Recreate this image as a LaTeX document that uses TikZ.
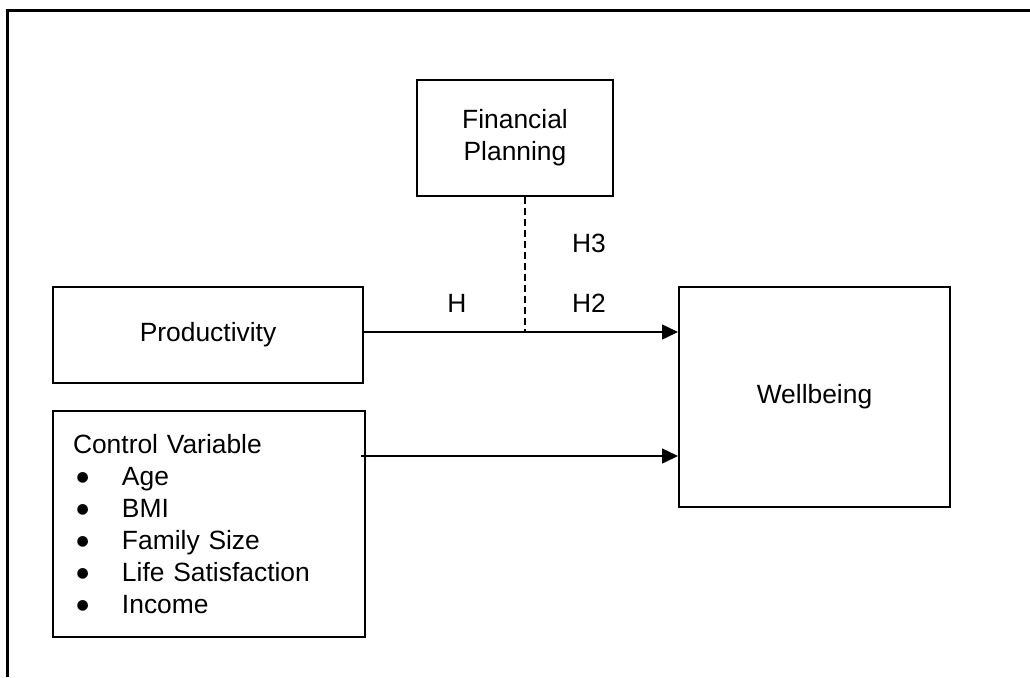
\documentclass[tikz,border=0pt]{standalone}
\usepackage{fontspec}
\setmainfont{Liberation Sans}
\newfontfamily\dejavu{DejaVu Sans}
\usetikzlibrary{arrows.meta}
\newcommand{\itembullet}{\makebox[24.5pt][l]{\hspace{1.8pt}\raisebox{1.8pt}{\dejavu\fontsize{7}{7}\selectfont ●}}}
\begin{document}
\begin{tikzpicture}[x=0.5pt,y=-0.5pt]
\useasboundingbox (0,0) rectangle (1030,677);
\draw [line width=1.5pt] (7,677) -- (7,10) -- (1030,10);

\begin{scope}[every node/.style={rectangle,draw,line width=1pt,inner sep=0pt,
              font=\fontsize{13.2}{16}\selectfont}]
    \node (1) [minimum width=98pt,minimum height=58pt,align=center] at (515,138) {Financial\\Planning};
    \node (2) [minimum width=155pt,minimum height=48pt] at (208,335) {Productivity};
    \node (3) [minimum height=113pt,text width=136pt,inner xsep=10pt,align=left] at (209,524)
        {Control Variable\\
         \itembullet Age\\
         \itembullet BMI\\
         \itembullet Family Size\\
         \itembullet Life Satisfaction\\
         \itembullet Income};
    \node (4) [minimum width=135.5pt,minimum height=110pt] at (814.5,397) {Wellbeing};
\end{scope}

\begin{scope}[every node/.style={font=\fontsize{13.2}{16}\selectfont}]
    \node (h1) at (457,303) {H};
    \node (h2) at (589,303) {H2};
    \node (h3) at (589,243) {H3};
\end{scope}

\coordinate (j) at (525,332);
\coordinate (c) at (361,456);

\begin{scope}[line width=0.75pt]
    \path [draw,dash pattern=on 3.5pt off 2pt] (j |- 1.south) -- (j);
    \path [draw,-{Triangle[length=8pt,width=7.5pt]}] (2.east |- j) -- (4.west |- j);
    \path [draw,-{Triangle[length=8pt,width=7.5pt]}] (c) -- (4.west |- c);
\end{scope}
\end{tikzpicture}
\end{document}
